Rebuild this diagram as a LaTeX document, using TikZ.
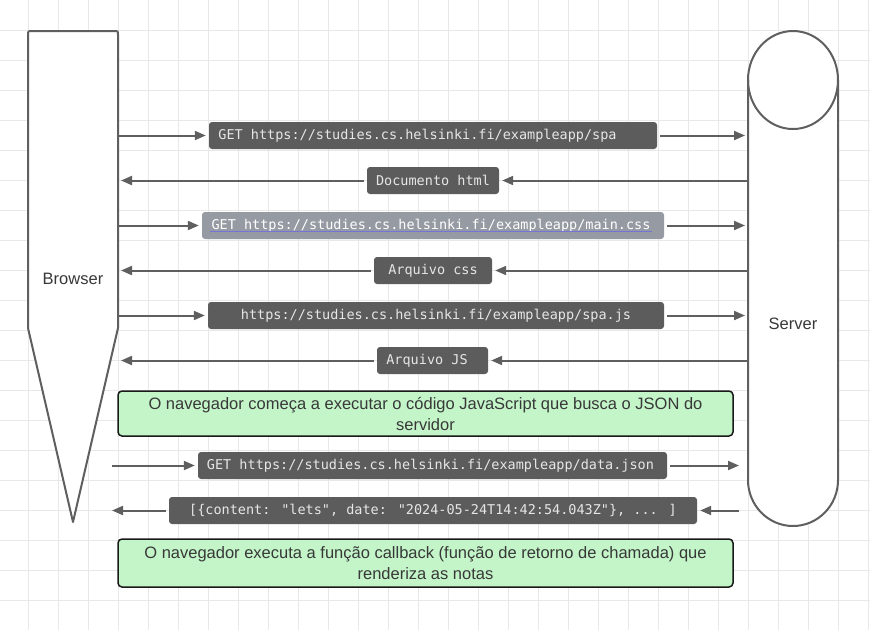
\documentclass[tikz,border=0pt]{standalone}
\usepackage{fontspec}
\setmainfont{Liberation Sans}
\newfontfamily\monofont{DejaVu Sans Mono}
\usetikzlibrary{arrows.meta}
\definecolor{edge}{HTML}{5F5F5F}
\definecolor{boxdark}{HTML}{5C5C5C}
\definecolor{boxlight}{HTML}{959AA3}
\definecolor{gridc}{HTML}{E8E8E8}
\definecolor{notefill}{HTML}{C3F5C9}
\definecolor{txt}{HTML}{383838}
\definecolor{boxtxt}{HTML}{E6E6E6}
\definecolor{linkc}{HTML}{7474D8}
\begin{document}
\begin{tikzpicture}[x=1pt,y=-1pt,
  actor/.style={draw=edge, line width=2pt, fill=white, line join=round},
  msgbox/.style={fill=boxdark, rounded corners=3pt, minimum height=27pt, inner sep=0pt, text=boxtxt, font=\monofont\fontsize{13.5}{16}\selectfont},
  msglight/.style={msgbox, fill=boxlight, text=white},
  note/.style={draw=black!90, line width=1.5pt, fill=notefill, rounded corners=4pt, minimum width=615pt, inner sep=0pt, text=txt, font=\fontsize{16.5}{21}\selectfont, align=center},
  arr/.style={draw=edge, line width=2pt, -{Triangle[length=11pt,width=9pt]}, shorten >=3pt},
  frombox/.style={shorten <=3pt},
  lbl/.style={text=txt, font=\fontsize{16.5}{20}\selectfont}
]
\useasboundingbox (0,0) rectangle (870,630);
\fill[white] (0,0) rectangle (870,630);
\foreach \x in {28,58,...,868} \draw[gridc, line width=1pt] (\x,0) -- (\x,630);
\foreach \y in {30,60,...,600} \draw[gridc, line width=1pt] (0,\y) -- (870,\y);

% Browser
\draw[actor] (73,522) -- (28,328) -- (28,35) .. controls (28,31) .. (32,31) -- (114,31) .. controls (118,31) .. (118,35) -- (118,328) -- cycle;
\node[lbl] (browser) at (73,279) {Browser};

% Server
\draw[actor] (748,80) -- (748,480) .. controls (748,505.4) and (768.15,526) .. (793,526) .. controls (817.85,526) and (838,505.4) .. (838,480) -- (838,80) .. controls (838,52.9) and (817.85,31) .. (793,31) .. controls (768.15,31) and (748,52.9) .. (748,80) -- cycle;
\draw[actor, fill=none] (748,80) .. controls (748,107.1) and (768.15,129) .. (793,129) .. controls (817.85,129) and (838,107.1) .. (838,80);
\node[lbl] (server) at (793,324) {Server};

% edge coordinates
\foreach \n/\y in {1/135.5,2/180.5,3/225.5,4/270.5,5/315.5,6/360.5} {
  \coordinate (b\n) at (118,\y);
  \coordinate (s\n) at (748,\y);
}
\coordinate (b7) at (112,465.5);
\coordinate (s7) at (739,465.5);
\coordinate (b8) at (112,510.5);
\coordinate (s8) at (739,510.5);

% messages
\node[msgbox, minimum width=448pt] (m1) at (433,135.5) {GET https://studies.cs.helsinki.fi/exampleapp/spa\kern31pt};
\node[msgbox, minimum width=132pt] (m2) at (433,180.5) {Documento html};
\node[msglight, minimum width=462pt] (m3) at (433,225.5) {GET https://studies.cs.helsinki.fi/exampleapp/main.css\kern4pt};
\draw[linkc, line width=0.8pt] ([xshift=8pt,yshift=-5.5pt]m3.west) -- ([xshift=-12pt,yshift=-5.5pt]m3.east);
\node[msgbox, minimum width=118pt] (m4) at (433,270.5) {Arquivo css};
\node[msgbox, minimum width=456pt] (m5) at (436,315.5) {https://studies.cs.helsinki.fi/exampleapp/spa.js};
\node[msgbox, minimum width=111pt] (m6) at (432.5,360.5) {Arquivo JS\kern11pt};
\node[msgbox, minimum width=469pt] (m7) at (432.5,465.5) {GET https://studies.cs.helsinki.fi/exampleapp/data.json\kern4pt};
\node[msgbox, minimum width=528pt] (m8) at (433,510.5) {[\{content: "lets", date: "2024-05-24T14:42:54.043Z"\}, ... ]};

% notes
\node[note, minimum height=45pt] (n1) at (425.5,413.5) {O navegador começa a executar o código JavaScript que busca o JSON do\\servidor};
\node[note, minimum height=48pt] (n2) at (425.5,563) {O navegador executa a função callback (função de retorno de chamada) que\\renderiza as notas};

% connectors
\draw[arr] (b1) -- (m1.west);
\draw[arr, frombox] (m1.east) -- (s1);
\draw[arr] (s2) -- (m2.east);
\draw[arr, frombox] (m2.west) -- (b2);
\draw[arr] (b3) -- (m3.west);
\draw[arr, frombox] (m3.east) -- (s3);
\draw[arr] (s4) -- (m4.east);
\draw[arr, frombox] (m4.west) -- (b4);
\draw[arr] (b5) -- (m5.west);
\draw[arr, frombox] (m5.east) -- (s5);
\draw[arr] (s6) -- (m6.east);
\draw[arr, frombox] (m6.west) -- (b6);
\draw[arr] (b7) -- (m7.west);
\draw[arr, frombox, shorten >=0pt] (m7.east) -- (s7);
\draw[arr] (s8) -- (m8.east);
\draw[arr, frombox, shorten >=0pt] (m8.west) -- (b8);
\end{tikzpicture}
\end{document}
